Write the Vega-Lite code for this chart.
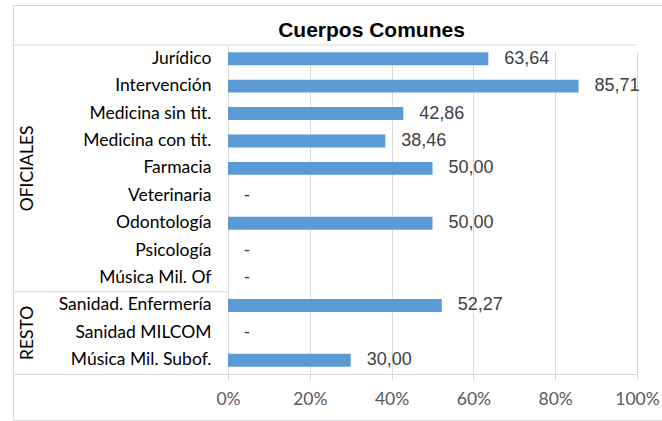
{
  "$schema": "https://vega.github.io/schema/vega-lite/v6.json",
  "width": 649,
  "height": 415,
  "autosize": {"type": "none"},
  "padding": {"left": 13, "top": 5, "right": 0, "bottom": 1},
  "background": "white",
  "title": {
    "text": "Cuerpos Comunes",
    "font": "Liberation Sans",
    "fontSize": 21,
    "fontWeight": "bold",
    "color": "#000000",
    "anchor": "middle",
    "frame": "group",
    "offset": -36,
    "dx": 34
  },
  "config": {
    "view": {"stroke": "#d9d9d9", "strokeWidth": 1},
    "locale": {"number": {"decimal": ",", "thousands": ".", "grouping": [3], "currency": ["", " €"]}},
    "axisY": {"title": null, "domainColor": "#d9d9d9", "ticks": false, "labelPadding": 17, "labelFont": "Lato", "labelFontSize": 17.5, "labelColor": "#000000", "labelLimit": 300, "grid": false},
    "axisX": {"title": null, "domainColor": "#d9d9d9", "ticks": false, "grid": true, "gridColor": "#d9d9d9", "labelPadding": 16, "labelFlush": false, "labelFont": "Lato", "labelFontSize": 17.5, "labelColor": "#595959"}
  },
  "data": {
    "values": [
      {"grupo": "OFICIALES", "categoria": "Jurídico", "valor": 63.64},
      {"grupo": "OFICIALES", "categoria": "Intervención", "valor": 85.71},
      {"grupo": "OFICIALES", "categoria": "Medicina sin tit.", "valor": 42.86},
      {"grupo": "OFICIALES", "categoria": "Medicina con tit.", "valor": 38.46},
      {"grupo": "OFICIALES", "categoria": "Farmacia", "valor": 50.00},
      {"grupo": "OFICIALES", "categoria": "Veterinaria", "valor": null},
      {"grupo": "OFICIALES", "categoria": "Odontología", "valor": 50.00},
      {"grupo": "OFICIALES", "categoria": "Psicología", "valor": null},
      {"grupo": "OFICIALES", "categoria": "Música Mil. Of", "valor": null},
      {"grupo": "RESTO", "categoria": "Sanidad. Enfermería", "valor": 52.27},
      {"grupo": "RESTO", "categoria": "Sanidad MILCOM", "valor": null},
      {"grupo": "RESTO", "categoria": "Música Mil. Subof.", "valor": 30.00}
    ]
  },
  "encoding": {
    "y": {
      "field": "categoria", "type": "nominal", "sort": null,
      "scale": {
        "domain": ["Jurídico", "Intervención", "Medicina sin tit.", "Medicina con tit.", "Farmacia", "Veterinaria", "Odontología", "Psicología", "Música Mil. Of", "Sanidad. Enfermería", "Sanidad MILCOM", "Música Mil. Subof."],
        "range": [40, 369], "paddingInner": 0, "paddingOuter": 0
      },
      "axis": {"orient": "left", "offset": -215}
    }
  },
  "layer": [
    {
      "mark": {"type": "bar", "color": "#5b9bd5", "height": {"band": 0.474}},
      "encoding": {
        "x": {
          "field": "valor", "type": "quantitative",
          "scale": {"domain": [-52.57, 100], "range": [0, 624], "nice": false},
          "axis": {"orient": "bottom", "offset": -46, "values": [0, 20, 40, 60, 80, 100], "labelExpr": "datum.value + '%'"}
        },
        "x2": {"datum": 0}
      }
    },
    {
      "transform": [{"filter": "isValid(datum.valor)"}],
      "mark": {"type": "text", "align": "left", "baseline": "middle", "dx": 16, "font": "Liberation Sans", "fontSize": 18, "color": "#404040"},
      "encoding": {
        "x": {"field": "valor", "type": "quantitative"},
        "text": {"field": "valor", "type": "quantitative", "format": ".2f"}
      }
    },
    {
      "transform": [{"filter": "!isValid(datum.valor)"}],
      "mark": {"type": "text", "align": "left", "baseline": "middle", "dx": 16, "font": "Liberation Sans", "fontSize": 18, "color": "#404040"},
      "encoding": {
        "x": {"datum": 0, "type": "quantitative"},
        "text": {"value": "-"}
      }
    },
    {
      "transform": [{"filter": "datum.categoria === 'Jurídico'"}],
      "mark": {"type": "rule", "color": "#d9d9d9", "strokeWidth": 1},
      "encoding": {
        "y": {"field": "categoria", "type": "nominal", "sort": null, "bandPosition": 0},
        "x": {"datum": -52.57, "type": "quantitative"},
        "x2": {"datum": 100}
      }
    },
    {
      "transform": [{"filter": "datum.categoria === 'Sanidad. Enfermería'"}],
      "mark": {"type": "rule", "color": "#d9d9d9", "strokeWidth": 1},
      "encoding": {
        "y": {"field": "categoria", "type": "nominal", "sort": null, "bandPosition": 0},
        "x": {"datum": -52.57, "type": "quantitative"},
        "x2": {"datum": 0}
      }
    },
    {
      "transform": [{"filter": "datum.categoria === 'Farmacia' || datum.categoria === 'Sanidad MILCOM'"}],
      "mark": {"type": "text", "angle": 270, "align": "center", "baseline": "middle", "font": "Lato", "fontSize": 17.5, "color": "#000000"},
      "encoding": {
        "x": {"datum": -49, "type": "quantitative"},
        "text": {"field": "grupo", "type": "nominal"}
      }
    }
  ]
}
